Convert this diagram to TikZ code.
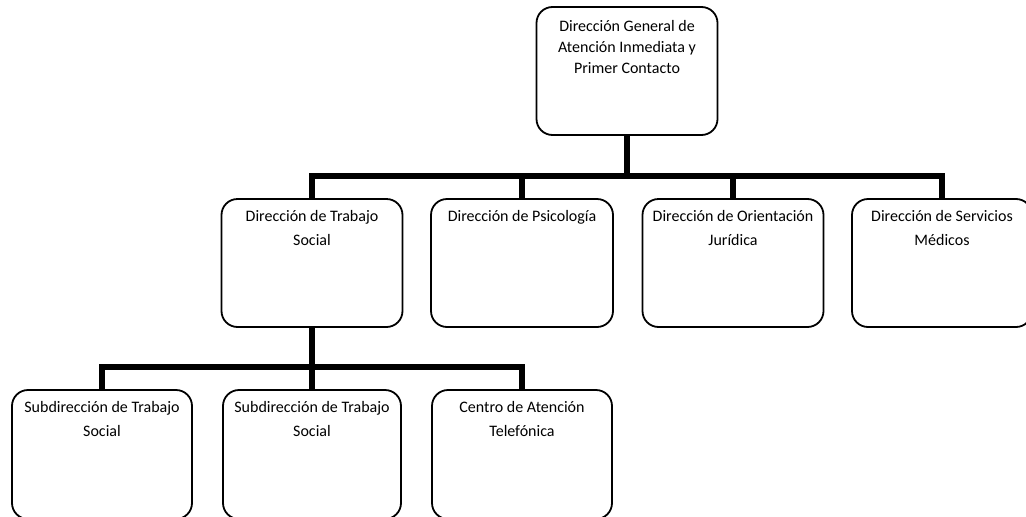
\documentclass[tikz,border=0pt]{standalone}
\usepackage{fontspec}
\setmainfont{Carlito}
\begin{document}
\begin{tikzpicture}[x=1pt,y=-1pt,
  box/.style={draw=black, line width=1.8pt, rounded corners=16pt, inner sep=0pt, fill=white},
  lbl/.style={anchor=north, inner sep=0pt, align=center, font=\fontsize{16}{24}\selectfont},
  toplbl/.style={anchor=north, inner sep=0pt, align=center, font=\fontsize{16}{21}\selectfont},
  conn/.style={draw=black, line width=6pt, line join=miter}]
\useasboundingbox (0,0) rectangle (1026,517);
\clip (0,0) rectangle (1026,517);
% boxes
\node[box, minimum width=181pt, minimum height=128pt] (top) at (627,71) {};
\node[box, minimum width=181pt, minimum height=128pt] (b1) at (312,263) {};
\node[box, minimum width=182pt, minimum height=128pt] (b2) at (522,263) {};
\node[box, minimum width=181pt, minimum height=128pt] (b3) at (733,263) {};
\node[box, minimum width=180pt, minimum height=128pt] (b4) at (942,263) {};
\node[box, minimum width=180pt, minimum height=129pt] (c1) at (102,454.5) {};
\node[box, minimum width=178pt, minimum height=129pt] (c2) at (312,454.5) {};
\node[box, minimum width=180pt, minimum height=129pt] (c3) at (522,454.5) {};
% texts
\node[toplbl] (topT) at ([yshift=-14pt]top.north) {Dirección General de\\Atención Inmediata y\\Primer Contacto};
\node[lbl] (b1T) at ([yshift=-12pt]b1.north) {Dirección de Trabajo\\Social};
\node[lbl] (b2T) at ([yshift=-12pt]b2.north) {Dirección de Psicología};
\node[lbl] (b3T) at ([yshift=-12pt]b3.north) {Dirección de Orientación\\Jurídica};
\node[lbl] (b4T) at ([yshift=-12pt]b4.north) {Dirección de Servicios\\Médicos};
\node[lbl] (c1T) at ([yshift=-12pt]c1.north) {Subdirección de Trabajo\\Social};
\node[lbl] (c2T) at ([yshift=-12pt]c2.north) {Subdirección de Trabajo\\Social};
\node[lbl] (c3T) at ([yshift=-12pt]c3.north) {Centro de Atención\\Telefónica};
% connectors
\coordinate (j1) at (top.south |- 0,176);
\coordinate (j2) at (b1.south |- 0,367);
\draw[conn] (top.south) -- (j1);
\draw[conn] (b1.north) |- (j1) -| (b4.north);
\draw[conn] (b2.north |- j1) -- (b2.north);
\draw[conn] (b3.north |- j1) -- (b3.north);
\draw[conn] (b1.south) -- (j2);
\draw[conn] (c1.north) |- (j2) -| (c3.north);
\draw[conn] (j2) -- (c2.north);
\end{tikzpicture}
\end{document}
